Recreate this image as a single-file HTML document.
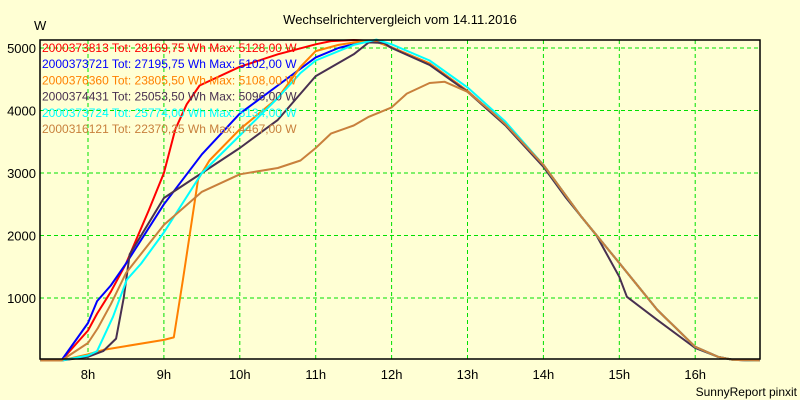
<!DOCTYPE html>
<html><head><meta charset="utf-8"><style>
body{margin:0;background:#ffffd4;}
svg{display:block;font-family:"Liberation Sans",Arial,sans-serif;}
</style></head><body>
<svg id="c" width="800" height="400">
<rect x="0" y="0" width="800" height="400" fill="#ffffd4"/>
<text x="400" y="24" text-anchor="middle" font-size="13">Wechselrichtervergleich vom 14.11.2016</text>
<text x="34" y="30" font-size="13">W</text>
<text x="797" y="396" text-anchor="end" font-size="12">SunnyReport pinxit</text>
<g id="grid"></g><g id="series"></g><g id="axes"></g><g id="legend"></g>
</svg>
<script>
const yTicks=[1000,2000,3000,4000,5000];
const xTicks=[8,9,10,11,12,13,14,15,16];
const names=["2000373813 Tot: 28169,75 Wh Max: 5128,00 W","2000373721 Tot: 27195,75 Wh Max: 5102,00 W","2000376360 Tot: 23805,50 Wh Max: 5108,00 W","2000374431 Tot: 25053,50 Wh Max: 5096,00 W","2000373724 Tot: 25774,00 Wh Max: 5134,00 W","2000316121 Tot: 22370,25 Wh Max: 4467,00 W"];
const colors=["#ff0000","#0000ff","#ff8000","#483050","#00ffff","#c8803c"];
const tail=[[12,5010],[12.5,4750],[13,4310],[13.5,3780],[14,3130],[14.5,2300],[15,1560],[15.5,810],[16,220],[16.3,60],[16.5,10],[16.85,0]];
const redPts=[[7.37,0],[7.65,0],[8,480],[8.12,750],[8.3,1100],[8.5,1550],[8.8,2400],[9,3000],[9.15,3700],[9.3,4100],[9.47,4400],[10,4700],[10.5,4900],[11,5060],[11.2,5110],[11.5,5128],[11.8,5110]];
const bluePts=[[7.37,0],[7.65,0],[8,600],[8.12,950],[8.3,1200],[8.5,1550],[9,2500],[9.5,3300],[10,3950],[10.5,4400],[11,4850],[11.3,5000],[11.6,5090],[11.8,5100]];
const orangePts=[[7.37,0],[7.65,0],[8,100],[8.2,170],[8.5,230],[9,330],[9.13,370],[9.25,1290],[9.45,2900],[9.6,3200],[10,3700],[10.5,4200],[10.8,4700],[11,4950],[11.3,5050],[11.6,5105],[11.8,5100]];
const darkPts=[[7.37,0],[7.65,0],[8,60],[8.2,150],[8.37,350],[8.47,1000],[8.55,1700],[9,2600],[9.5,3000],[10,3400],[10.5,3850],[11,4550],[11.5,4900],[11.7,5090],[11.9,5080],[12,5000],[12.5,4730],[13,4300],[13.5,3760],[14,3100],[14.3,2600],[14.7,2000],[15,1340],[15.1,1020],[15.5,650],[16,200],[16.3,60],[16.5,10],[16.85,0]];
const cyanPts=[[7.37,0],[7.65,0],[8,80],[8.12,150],[8.33,700],[8.51,1290],[8.7,1550],[9,2050],[9.5,3000],[10,3600],[10.5,4200],[10.8,4600],[11,4800],[11.5,5050],[11.8,5134],[12,5060],[12.5,4800],[13,4370],[13.5,3820]];
const brownPts=[[7.37,0],[7.65,0],[8,280],[8.13,520],[8.3,900],[8.5,1400],[9,2170],[9.5,2700],[10,2980],[10.5,3080],[10.8,3200],[11,3400],[11.2,3630],[11.5,3760],[11.7,3900],[12,4050],[12.2,4270],[12.5,4440],[12.7,4460],[13,4300],[13.3,4000]];
const seriesPts=[redPts.concat(tail),bluePts.concat(tail),orangePts.concat(tail),darkPts,cyanPts.concat(tail.slice(4)),brownPts.concat(tail.slice(3))];
const X0=40,X1=760,Y0=40,Y1=359;
const sx=t=>88+(t-8)*75.9;
const sy=v=>360.5-v*0.0625;
const NS="http://www.w3.org/2000/svg";
function mk(tag,attrs,parent){const e=document.createElementNS(NS,tag);for(const k in attrs)e.setAttribute(k,attrs[k]);parent.appendChild(e);return e;}
const grid=document.getElementById('grid'),axes=document.getElementById('axes'),ser=document.getElementById('series'),leg=document.getElementById('legend');
yTicks.forEach(v=>{const l=mk('line',{x1:X0,x2:X1,y1:sy(v),y2:sy(v),stroke:"#00e000","stroke-dasharray":"4,3"},grid);


const t=mk('text',{x:36,y:sy(v)+5,"text-anchor":"end","font-size":"13"},axes);t.textContent=v;

});
xTicks.forEach(h=>{const l=mk('line',{x1:sx(h),x2:sx(h),y1:Y0,y2:Y1,stroke:"#00e000","stroke-dasharray":"4,3"},grid);


const t=mk('text',{x:sx(h),y:379,"text-anchor":"middle","font-size":"13"},axes);t.textContent=h+"h";

});
const fr=mk('path',{d:`M${X0},${Y0}H${X1}V${Y1}H${X0}Z`,fill:"none",stroke:"#000","stroke-width":"1.5"},axes);


seriesPts.forEach((pts,i)=>{const p=mk('polyline',{points:pts.map(d=>sx(d[0]).toFixed(1)+","+sy(d[1]).toFixed(1)).join(" "),fill:"none",stroke:colors[i],"stroke-width":"2","stroke-linejoin":"round"},ser);

});
names.forEach((n,i)=>{const t=mk('text',{x:42,y:52+i*16.2,"font-size":"12",fill:colors[i]},leg);t.textContent=n;

});
</script>
</body></html>
